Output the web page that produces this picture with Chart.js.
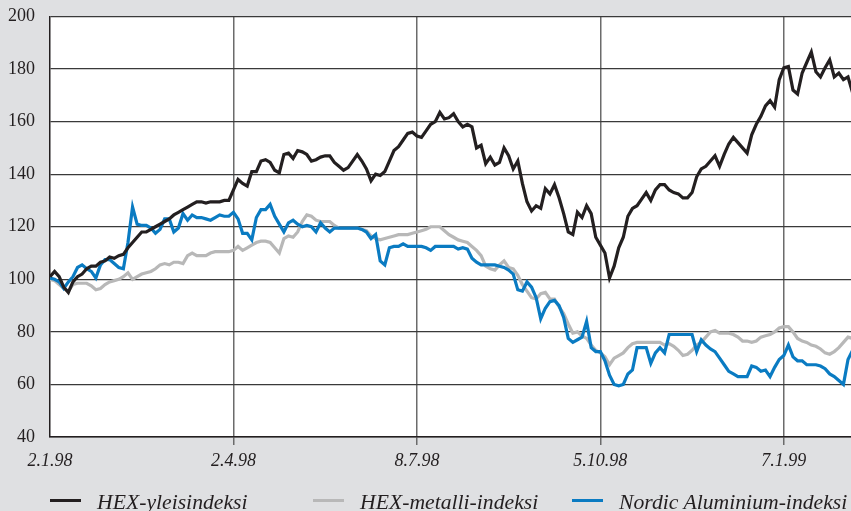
<!DOCTYPE html>
<html>
<head>
<meta charset="utf-8">
<script src="https://cdn.jsdelivr.net/npm/chart.js@4.4.1/dist/chart.umd.min.js"></script>
<style>
  html, body { margin: 0; padding: 0; background: #dfe0e2; }
  #wrap { position: relative; width: 851px; height: 511px; overflow: hidden; }
  #legend { position: absolute; left: 0; top: 0; width: 851px; height: 511px; pointer-events: none; }
  .item { position: absolute; top: 491px; height: 22px; line-height: 22px;
          font-family: "Liberation Serif", "Times New Roman", serif; font-style: italic;
          font-size: 21.7px; color: #231f20; white-space: nowrap; }
  .item i { position: absolute; left: 0; top: 8px; width: 31px; height: 3px; }
  .item span { position: absolute; left: 47px; top: 0; }
</style>
</head>
<body>
<div id="wrap">
  <canvas id="chart"></canvas>
  <div id="legend"></div>
</div>
<script>
// x positions are trading-day steps, ~40 steps between date labels
var tickIdx = [0, 40, 80, 120, 160];
var tickLabels = ['2.1.98', '2.4.98', '8.7.98', '5.10.98', '7.1.99'];

var hexYleis = [
  101, 103, 101, 97, 95, 99, 101, 102, 104, 105, 105, 106.5, 107, 108.5, 108, 109,
  109.5, 112, 114, 116, 118, 118, 119, 120, 121, 122, 123, 124.5, 125.5, 126.5, 127.5, 128.5,
  129.5, 129.5, 129, 129.5, 129.5, 129.5, 130, 130, 134, 138, 136.5, 135.5, 141, 141,
  145, 145.5, 144.5, 141.5, 140.5, 147.5, 148, 146, 149, 148.5, 147.5, 145, 145.5, 146.5,
  147, 147, 144.5, 143, 141.5, 142.5, 145, 147.5, 145, 142, 137.5, 140, 139.5, 141,
  145, 149, 150.5, 153, 155.5, 156, 154.5, 154, 156.5, 159, 160, 163.5, 161, 161.5,
  163, 160, 158, 159, 158, 150, 151, 144, 146.5, 143.5, 144.5, 150, 147, 142,
  145, 136.5, 129.5, 126, 128, 127, 134.5, 132.5, 136, 131, 125, 118, 117, 125.5,
  123.5, 128, 125, 116, 113, 110, 100.5, 105, 112, 116, 124, 127, 128, 130.5,
  133, 130, 134, 136, 136, 134, 133, 132.5, 131, 131, 133, 139, 142, 143,
  145, 147, 143, 147.5, 151.5, 154, 152, 150, 148, 155, 159, 162, 166, 168,
  165.5, 176, 180.5, 181, 172, 170.5, 178.5, 182.5, 186.5, 179, 177, 180.5, 183.5, 177,
  178.5, 176, 177, 171
];
var hexMetalli = [
  100, 99.5, 98, 96.5, 95.5, 98, 98.5, 98.5, 98.5, 97.5, 96, 96.5, 98, 99, 99.5, 100,
  101, 102.5, 100, 101, 102, 102.5, 103, 104, 105.5, 106, 105.5, 106.5, 106.5, 106, 109, 110,
  109, 109, 109, 110, 110.5, 110.5, 110.5, 110.5, 111, 112.5, 111, 112, 113, 114,
  114.5, 114.5, 114, 112, 110, 115.5, 116.5, 116, 118, 122, 124.5, 124, 122.5, 122,
  122, 122, 120.5, 119.5, 119.5, 119.5, 119.5, 119.5, 119, 118.5, 116.5, 115.5, 115, 115.5,
  116, 116.5, 117, 117, 117, 117.5, 118, 118.5, 119, 120, 120, 120, 118.5, 117,
  116, 115, 114.5, 114, 112.5, 111, 109, 105, 104, 103.5, 105.5, 107, 104.5, 104,
  101.5, 98, 95.5, 93, 92.5, 94.5, 95, 92.5, 92.5, 89.5, 87, 83, 79.5, 80,
  78.5, 77.5, 75, 73, 72, 70.5, 67.5, 70, 71, 72, 74, 75.5, 76, 76,
  76, 76, 76, 76, 75, 75.5, 74.5, 73, 71, 71.5, 73, 75, 76, 78,
  80, 80.5, 79.5, 79.5, 79.5, 79, 78, 76.5, 76.5, 76, 76.5, 78, 78.5, 79,
  80, 81.5, 82, 82, 80, 77.5, 76.5, 76, 75, 74.5, 73.5, 72, 71.5, 72.5,
  74, 76, 78, 77.5
];
var nordicAlu = [
  100.5, 100, 99, 96.5, 99, 101, 104.5, 105.5, 104, 103, 100.5, 105.5, 107.5, 107.5, 106, 104.5,
  104, 114, 127.5, 121, 120.5, 120.5, 119.5, 117.5, 119, 123, 123, 118, 119.5, 125, 122.5, 124.5,
  123.5, 123.5, 123, 122.5, 123.5, 124.5, 124, 124, 125.5, 123, 117.5, 117.5, 115, 123.5,
  126.5, 126.5, 128.5, 124, 121, 118, 121.5, 122.5, 121, 120, 120.5, 120, 118, 121.5,
  119.5, 118, 119.5, 119.5, 119.5, 119.5, 119.5, 119.5, 119, 118, 115.5, 117, 107, 105.5,
  112, 112.5, 112.5, 113.5, 112.5, 112.5, 112.5, 112.5, 112, 111, 112.5, 112.5, 112.5, 112.5,
  112.5, 111.5, 112, 111.5, 108, 106.5, 105.5, 105.5, 105.5, 105.5, 105, 104.5, 103.5, 102,
  96, 95.5, 99, 97, 93, 85, 89, 91.5, 92, 90, 85.5, 77.5, 76, 77,
  78, 84, 74, 72.5, 72.5, 69, 63.5, 60, 59.5, 60, 64, 65.5, 74, 74,
  74, 68, 72, 74, 72, 79, 79, 79, 79, 79, 79, 72.5, 77, 75,
  73.5, 72.5, 70, 67.5, 65, 64, 63, 63, 63, 67, 66.5, 65, 65.5, 63,
  66.5, 69.5, 71, 75, 70.5, 69, 69, 67.5, 67.5, 67.5, 67, 66, 64, 63,
  61.5, 60, 69.5, 73
];

var seriesNames = ['HEX-yleisindeksi', 'HEX-metalli-indeksi', 'Nordic Aluminium-indeksi'];
var seriesColors = ['#231f20', '#b8b8b8', '#0a7bc2'];
var seriesData = [hexYleis, hexMetalli, nordicAlu];
var drawOrder = [0, 2, 1];

function toPoints(arr) {
  return arr.map(function (v, i) { return { x: i, y: v }; });
}

var plotBackground = {
  id: 'plotBackground',
  beforeDraw: function (chart) {
    var c = chart.ctx, a = chart.chartArea;
    c.save();
    c.fillStyle = '#dfe0e2';
    c.fillRect(0, 0, chart.width, chart.height);
    c.fillStyle = '#ffffff';
    c.fillRect(a.left, a.top, a.right - a.left, a.bottom - a.top);
    c.restore();
  }
};

var ctx = document.getElementById('chart').getContext('2d');
var chart = new Chart(ctx, {
  type: 'line',
  data: {
    datasets: seriesData.map(function (d, k) {
      return {
        label: seriesNames[k],
        data: toPoints(d),
        borderColor: seriesColors[k],
        backgroundColor: seriesColors[k],
        borderWidth: 3.2,
        pointRadius: 0,
        tension: 0,
        fill: false,
        order: drawOrder[k]
      };
    })
  },
  options: {
    responsive: true,
    maintainAspectRatio: false,
    animation: false,
    layout: { autoPadding: false, padding: { top: 16.5, right: 0, left: 0, bottom: 0 } },
    plugins: {
      legend: { display: false },
      tooltip: { enabled: false }
    },
    scales: {
      x: {
        type: 'linear',
        min: 0,
        max: 174.65,
        afterBuildTicks: function (scale) {
          scale.ticks = tickIdx.map(function (v) { return { value: v }; });
        },
        afterFit: function (scale) { scale.height = 74; },
        ticks: {
          autoSkip: false,
          maxRotation: 0,
          padding: 5,
          color: '#231f20',
          font: { family: '"Liberation Serif", serif', size: 18, style: 'italic' },
          callback: function (value) {
            var k = tickIdx.indexOf(value);
            return k >= 0 ? tickLabels[k] : '';
          }
        },
        grid: {
          drawTicks: true,
          tickLength: 8,
          lineWidth: 1.5,
          color: function (c) { return c.tick && c.tick.value === 0 ? 'rgba(0,0,0,0)' : '#6b6b6b'; }
        },
        border: { display: true, color: '#231f20', width: 1.5 }
      },
      y: {
        min: 40,
        max: 200,
        afterFit: function (scale) {
          scale.width = 50;
          scale.paddingTop = 0;     // otherwise the top label pushes the plot down
          scale.paddingBottom = 0;
        },
        ticks: {
          stepSize: 20,
          padding: 15,
          color: '#231f20',
          font: { family: '"Liberation Serif", serif', size: 18 }
        },
        grid: { drawTicks: false, color: '#3a3a3a', lineWidth: 1.2 },
        border: { display: true, color: '#231f20', width: 1.5 }
      }
    }
  },
  plugins: [plotBackground]
});

// legend below the plot
var legendX = [50, 313, 572];
var legend = document.getElementById('legend');
seriesNames.forEach(function (name, k) {
  var el = document.createElement('div');
  el.className = 'item';
  el.style.left = legendX[k] + 'px';
  el.innerHTML = '<i style="background:' + seriesColors[k] + '"></i><span>' + name + '</span>';
  legend.appendChild(el);
});
</script>
</body>
</html>
